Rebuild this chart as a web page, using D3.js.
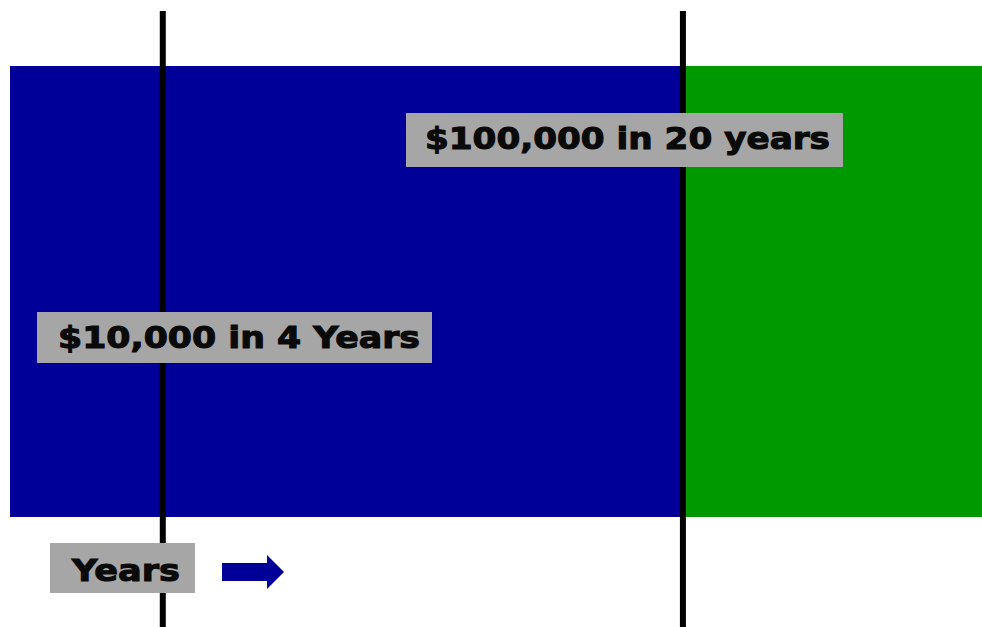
<!DOCTYPE html>
<html>
<head>
<meta charset="utf-8">
<script src="https://cdn.jsdelivr.net/npm/d3@7"></script>
<style>
  body { margin: 0; background: #fff; }
  svg text { font-family: "DejaVu Sans", sans-serif; font-weight: bold; fill: #0a0a0a; stroke: #0a0a0a; stroke-width: 1.1px; }
</style>
</head>
<body>
<div id="chart"></div>
<script>
// periods on the time line
const periodNames = ["Saving", "Growth"];
const periodStart = [-0.7, 20];
const periodEnd = [20, 29.2];
const periodColors = ["#000099", "#009900"];

// milestones (years) and the money reached there
const milestoneYears = [4, 20];
const milestoneLabels = ["$10,000 in 4 Years", "$100,000 in 20 years"];
const axisLabel = "Years";

let width = 982;
let height = 627;

const svg = d3.select("#chart")
    .append("svg")
    .attr("width", width)
    .attr("height", height);

const x = d3.scaleLinear()
    .domain([-0.7, 29.2])
    .range([10, 982]);

const bandTop = 66, bandBottom = 517;

// the two coloured periods
svg.selectAll(".period")
    .data(periodNames)
    .enter().append("rect")
    .attr("class", "period")
    .attr("x", (d, i) => x(periodStart[i]))
    .attr("y", bandTop)
    .attr("width", (d, i) => x(periodEnd[i]) - x(periodStart[i]))
    .attr("height", bandBottom - bandTop)
    .attr("fill", (d, i) => periodColors[i]);

// milestone lines
svg.selectAll(".milestone")
    .data(milestoneYears)
    .enter().append("line")
    .attr("class", "milestone")
    .attr("x1", d => x(d)).attr("x2", d => x(d))
    .attr("y1", 11).attr("y2", height)
    .attr("stroke", "#000")
    .attr("stroke-width", 6);

// grey label box with bold text
function addLabel(txt, left, top, boxH, baseline, textW, padL, padR) {
    let g = svg.append("g");
    g.append("rect")
        .attr("x", left)
        .attr("y", top)
        .attr("width", padL + textW + padR)
        .attr("height", boxH)
        .attr("fill", "#a6a6a6");
    g.append("text")
        .attr("x", left + padL)
        .attr("y", baseline)
        .attr("textLength", textW)
        .attr("lengthAdjust", "spacingAndGlyphs")
        .style("font-size", "31px")
        .text(txt);
    return g;
}

addLabel(milestoneLabels[0], 37, 312, 51, 348, 362, 21, 12);
addLabel(milestoneLabels[1], 406, 113, 54, 149, 405, 19, 13);
addLabel(axisLabel, 50, 543, 50, 581, 108, 22, 15);

// arrow pointing along the time axis
const ax = 222, ay = 572;
svg.append("path")
    .attr("d", "M" + ax + "," + (ay - 9) + " H" + (ax + 45) + " V" + (ay - 17) +
        " L" + (ax + 62) + "," + ay + " L" + (ax + 45) + "," + (ay + 17) +
        " V" + (ay + 9) + " H" + ax + " Z")
    .attr("fill", "#000099");
</script>
</body>
</html>
